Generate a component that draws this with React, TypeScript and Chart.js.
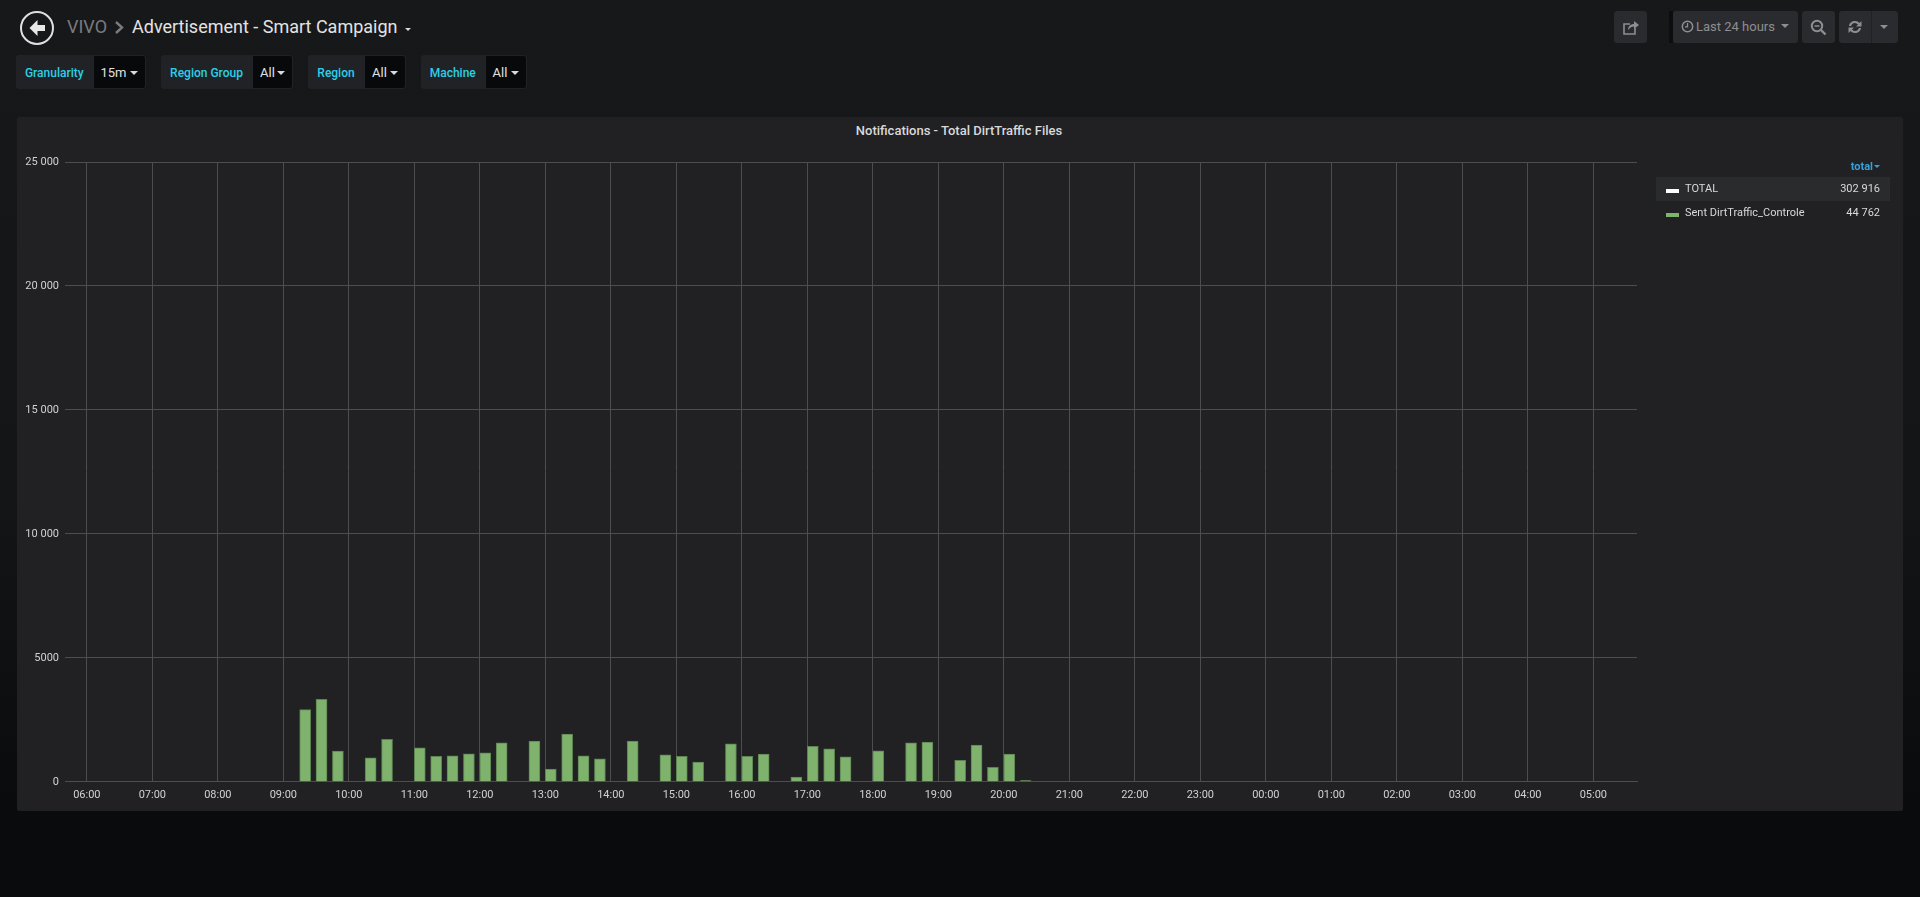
import React, { useEffect, useRef } from "react";
import { Chart, registerables } from "chart.js";

Chart.register(...registerables);

// Hours since midnight, 06:00 today through 05:00 the next day
const hourTicks = [6, 7, 8, 9, 10, 11, 12, 13, 14, 15, 16, 17, 18, 19, 20, 21, 22, 23, 24, 25, 26, 27, 28, 29];
const yTicks = [0, 5000, 10000, 15000, 20000, 25000];
const yTickLabels = ["0", "5000", "10 000", "15 000", "20 000", "25 000"];

const sentTimes = [
  "09:15", "09:30", "09:45", "10:15", "10:30", "11:00", "11:15", "11:30", "11:45", "12:00", "12:15", "12:45",
  "13:00", "13:15", "13:30", "13:45", "14:15", "14:45", "15:00", "15:15", "15:45", "16:00", "16:15", "16:45",
  "17:00", "17:15", "17:30", "18:00", "18:30", "18:45", "19:15", "19:30", "19:45", "20:00", "20:15",
];
const sentValues = [
  2908, 3325, 1238, 969, 1715, 1373, 1023, 1050, 1131, 1171, 1575, 1640,
  511, 1925, 1050, 929, 1640, 1090, 1023, 794, 1534, 1023, 1117, 188,
  1427, 1332, 1010, 1252, 1575, 1602, 861, 1481, 579, 1117, 54,
];

const legendRows = [
  { name: "TOTAL", total: "302 916", color: "#ffffff" },
  { name: "Sent DirtTraffic_Controle", total: "44 762", color: "#7eb26d" },
];

const filters = [
  { label: "Granularity", value: "15m", left: 16, split: 92.5, right: 146 },
  { label: "Region Group", value: "All", left: 161, split: 252, right: 293 },
  { label: "Region", value: "All", left: 308, split: 364, right: 406 },
  { label: "Machine", value: "All", left: 421, split: 484.5, right: 527 },
];

const toMinutes = (t: string) => {
  const [h, m] = t.split(":").map(Number);
  return h * 60 + m;
};
const BAR_CENTER_SHIFT_MIN = 5; // flot draws the bar from its timestamp rightwards

const pad2 = (n: number) => String(n).padStart(2, "0");
const FONT = "Roboto, sans-serif";
const GRID = "#4d4d4f";

const Caret = ({ x, y, w = 9, color = "#d8d9da" }: { x: number; y: number; w?: number; color?: string }) => (
  <div
    style={{
      position: "absolute", left: x, top: y, width: 0, height: 0,
      borderLeft: `${w / 2}px solid transparent`, borderRight: `${w / 2}px solid transparent`,
      borderTop: `${w / 2}px solid ${color}`,
    }}
  />
);

const Abs = ({ style, children }: any) => <div style={{ position: "absolute", whiteSpace: "nowrap", ...style }}>{children}</div>;

const btn = { background: "#2a2b2e", borderRadius: 3, top: 11, height: 32 };

export default function App() {
  const ref = useRef<HTMLCanvasElement>(null);

  useEffect(() => {
    document.body.style.margin = "0";
    const chart = new Chart(ref.current!, {
      type: "bar",
      data: {
        datasets: [
          {
            label: legendRows[0].name,
            data: [],
            hidden: true,
            backgroundColor: legendRows[0].color,
          },
          {
            label: legendRows[1].name,
            data: sentTimes.map((t, i) => ({ x: toMinutes(t) + BAR_CENTER_SHIFT_MIN, y: sentValues[i] })),
            backgroundColor: "#7eb26d",
            borderColor: "#5d8352",
            borderWidth: 1,
            barThickness: 11,
          },
        ],
      },
      options: {
        animation: false,
        responsive: false,
        maintainAspectRatio: false,
        layout: { padding: { left: 17, right: 283, top: 162, bottom: 88 } },
        plugins: { legend: { display: false }, title: { display: false }, tooltip: { enabled: false } },
        scales: {
          x: {
            type: "linear",
            offset: false,
            min: 340,
            max: 1780,
            afterBuildTicks: (s: any) => {
              s.ticks = hourTicks.map((h) => ({ value: h * 60 }));
            },
            grid: { color: GRID, lineWidth: 1, drawTicks: false, offset: false },
            border: { color: GRID },
            ticks: {
              color: "#d0d1d2",
              font: { family: FONT, size: 11 },
              padding: 7,
              maxRotation: 0,
              autoSkip: false,
              callback: (v: any) => `${pad2(Math.floor(Number(v) / 60) % 24)}:00`,
            },
          },
          y: {
            min: 0,
            max: 25000,
            afterBuildTicks: (s: any) => {
              s.ticks = yTicks.map((v) => ({ value: v }));
            },
            afterFit: (s: any) => {
              s.width = 48;
            },
            grid: { color: GRID, lineWidth: 1, drawTicks: false },
            border: { display: false },
            ticks: {
              color: "#d0d1d2",
              font: { family: FONT, size: 11 },
              padding: 6,
              callback: (v: any) => yTickLabels[yTicks.indexOf(Number(v))],
            },
          },
        },
      },
    });
    return () => chart.destroy();
  }, []);

  return (
    <div
      style={{
        position: "absolute", left: 0, top: 0, width: 1920, height: 897, overflow: "hidden",
        background: "linear-gradient(#171819 0%, #141517 55%, #0a0b0d 90%, #0a0b0d 100%)",
        fontFamily: FONT, color: "#d8d9da",
      }}
    >
      {/* back button */}
      <svg style={{ position: "absolute", left: 19, top: 10 }} width="36" height="36" viewBox="0 0 36 36">
        <circle cx="18" cy="18" r="16" fill="none" stroke="#e0e0e0" strokeWidth="2" />
        <path d="M18.5 10 L10.5 18 L18.5 26 L18.5 21 L26 21 L26 15 L18.5 15 Z" fill="#e8e8e8" />
      </svg>
      <Abs style={{ left: 67, top: 16, fontSize: 18, lineHeight: "22px", color: "#7b7b7e" }}>VIVO</Abs>
      <svg style={{ position: "absolute", left: 114, top: 21 }} width="10" height="13" viewBox="0 0 10 13">
        <path d="M2 1 L8 6.5 L2 12" fill="none" stroke="#7b7b7e" strokeWidth="2.4" />
      </svg>
      <Abs style={{ left: 132, top: 16, fontSize: 18, lineHeight: "22px", color: "#e3e3e4" }}>Advertisement - Smart Campaign</Abs>
      <Caret x={405} y={28} w={7} />

      {/* template variables */}
      {filters.map((f) => (
        <React.Fragment key={f.label}>
          <div style={{ position: "absolute", left: f.left, top: 55, width: f.split - f.left, height: 34, background: "#212226", borderRadius: "3px 0 0 3px" }} />
          <div style={{ position: "absolute", left: f.split, top: 55, width: f.right - f.split, height: 34, background: "#08090b", borderRadius: "0 3px 3px 0", border: "1px solid #212226", boxSizing: "border-box" }} />
          <Abs style={{ left: f.left, width: f.split - f.left, top: 56, textAlign: "center", lineHeight: "34px", fontSize: 12, fontWeight: 500, color: "#2ad0e6" }}>{f.label}</Abs>
          <Abs style={{ left: f.split + 8, top: 55, lineHeight: "36px", fontSize: 13, color: "#e0e1e2" }}>{f.value}</Abs>
          <Caret x={f.right - 16} y={71} w={8} />
        </React.Fragment>
      ))}

      {/* top-right buttons */}
      <div style={{ position: "absolute", left: 1614, width: 33, ...btn }} />
      <svg style={{ position: "absolute", left: 1622, top: 19 }} width="18" height="17" viewBox="0 0 18 17">
        <path d="M13 9 V15 H2 V5 H8" fill="none" stroke="#8e8e90" strokeWidth="1.6" />
        <path d="M6 11 C6 7 9 5 12 5 V2 L17 6 L12 10 V7.5 C10 7.5 8 8.5 6 11 Z" fill="#8e8e90" />
      </svg>
      <div style={{ position: "absolute", left: 1669, top: 11, width: 4, height: 32, background: "#0c0d0f" }} />
      <div style={{ position: "absolute", left: 1673, width: 125, ...btn }} />
      <svg style={{ position: "absolute", left: 1681, top: 20 }} width="13" height="13" viewBox="0 0 13 13">
        <circle cx="6.5" cy="6.5" r="5.2" fill="none" stroke="#8e8e90" strokeWidth="1.5" />
        <path d="M6.5 3 V6.8 H4" fill="none" stroke="#8e8e90" strokeWidth="1.3" />
      </svg>
      <Abs style={{ left: 1696, top: 11, lineHeight: "31px", fontSize: 13, color: "#8e8e90" }}>Last 24 hours</Abs>
      <Caret x={1781} y={24} w={8} color="#8e8e90" />
      <div style={{ position: "absolute", left: 1802, width: 33, ...btn }} />
      <svg style={{ position: "absolute", left: 1810, top: 19 }} width="17" height="17" viewBox="0 0 17 17">
        <circle cx="7" cy="7" r="5.2" fill="none" stroke="#8e8e90" strokeWidth="2" />
        <path d="M4.5 7 H9.5" stroke="#8e8e90" strokeWidth="1.5" />
        <path d="M11 11 L15.5 15.5" stroke="#8e8e90" strokeWidth="2.4" />
      </svg>
      <div style={{ position: "absolute", left: 1839, width: 32, ...btn, borderRadius: "3px 0 0 3px" }} />
      <div style={{ position: "absolute", left: 1871, width: 27, ...btn, borderRadius: "0 3px 3px 0", borderLeft: "1px solid #202124", boxSizing: "border-box" }} />
      <svg style={{ position: "absolute", left: 1847, top: 19 }} width="16" height="16" viewBox="0 0 16 16">
        <path d="M2 7 C2.5 3.5 5 2 8 2 C10 2 11.5 2.8 12.5 4 L14.5 2 V7.5 H9 L11 5.5 C10 4.5 9 4 8 4 C6 4 4.6 5 4.2 7 Z" fill="#8e8e90" />
        <path d="M14 9 C13.5 12.5 11 14 8 14 C6 14 4.5 13.2 3.5 12 L1.5 14 V8.5 H7 L5 10.5 C6 11.5 7 12 8 12 C10 12 11.4 11 11.8 9 Z" fill="#8e8e90" />
      </svg>
      <Caret x={1880} y={25} w={8} color="#8e8e90" />

      {/* panel */}
      <div style={{ position: "absolute", left: 17, top: 117, width: 1886, height: 694, background: "#212124", borderRadius: 2 }} />
      <Abs style={{ left: 16, width: 1886, top: 122, textAlign: "center", lineHeight: "18px", fontSize: 13, fontWeight: 500, color: "#d8d9da" }}>
        Notifications - Total DirtTraffic Files
      </Abs>
      <canvas ref={ref} width={1920} height={897} style={{ position: "absolute", left: 0, top: 0, width: 1920, height: 897 }} />

      {/* legend */}
      <Abs style={{ right: 47, top: 159, fontSize: 11, lineHeight: "16px", fontWeight: 700, color: "#33a2d9" }}>total</Abs>
      <Caret x={1874} y={165} w={6} color="#33a2d9" />
      <div style={{ position: "absolute", left: 1656, top: 177, width: 234, height: 24, background: "#2a2b2d" }} />
      {legendRows.map((r, i) => (
        <React.Fragment key={r.name}>
          <div style={{ position: "absolute", left: 1666, top: 189 + i * 24, width: 13, height: 4, background: r.color }} />
          <Abs style={{ left: 1685, top: 177 + i * 24, lineHeight: "23px", fontSize: 11, color: "#d8d9da" }}>{r.name}</Abs>
          <Abs style={{ right: 40, top: 177 + i * 24, lineHeight: "23px", fontSize: 11, color: "#d8d9da" }}>{r.total}</Abs>
        </React.Fragment>
      ))}
    </div>
  );
}
